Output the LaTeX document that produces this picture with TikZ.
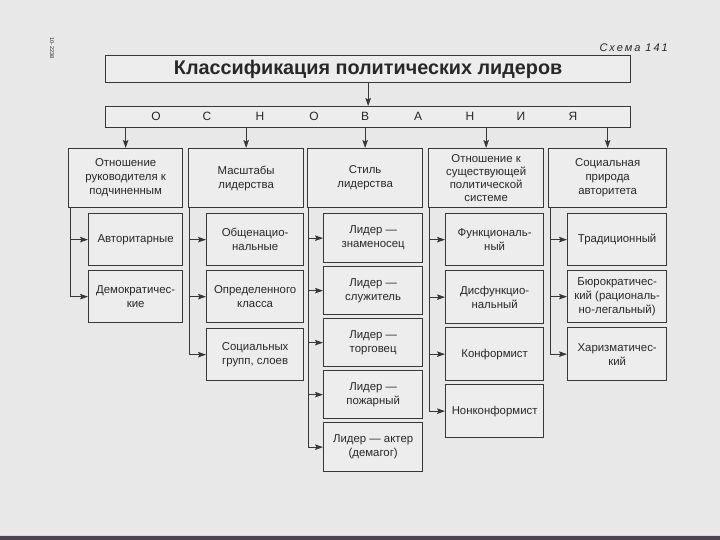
\documentclass[tikz,border=0pt]{standalone}
\usepackage{fontspec}
\setmainfont{Liberation Sans}
\usetikzlibrary{arrows.meta}
\definecolor{bgc}{RGB}{232,232,232}
\definecolor{boxc}{RGB}{238,237,238}
\definecolor{linec}{RGB}{55,55,55}
\definecolor{textc}{RGB}{40,40,40}
\definecolor{stripc}{RGB}{85,65,85}
\begin{document}
\begin{tikzpicture}[x=1pt,y=-1pt,
  box/.style={draw=linec, line width=1.3pt, fill=boxc, anchor=north west, inner sep=0pt, align=center, text=textc, font=\fontsize{11.4}{14}\selectfont},
  conn/.style={draw=linec, line width=0.9pt},
  arr/.style={conn, -{Stealth[length=8pt,width=5.5pt,inset=1.5pt]}},
  letter/.style={text=textc, font=\fontsize{12}{13}\selectfont, inner sep=0pt}
]
\useasboundingbox (0,0) rectangle (720,540);
\fill[bgc] (0,0) rectangle (720,540);
\fill[stripc] (0,536) rectangle (720,540);
\fill[pink!60!bgc] (0,534.5) rectangle (720,536);

% margin notes
\node[rotate=-90, text=textc, font=\fontsize{5.5}{6}\selectfont, inner sep=0pt] (pg) at (52,48) {10- 2238};
\node[anchor=south east, text=textc, inner sep=0pt, font=\fontsize{11}{12}\selectfont\itshape\addfontfeatures{LetterSpace=18}] (sch) at (668,52) {Схема 141};

% title and basis
\node[box, minimum width=525pt, minimum height=27pt, font=\fontsize{19.8}{22}\selectfont\bfseries] (title) at (105,55) {Классификация политических лидеров};
\node[box, minimum width=525pt, minimum height=21pt] (osn) at (105,106) {};
\foreach \l/\x in {О/156,С/207,Н/260,О/314,В/365,А/418,Н/470,И/521,Я/573}
  \node[letter] at (\x,116.5) {\l};

% categories
\node[box, minimum width=114pt, minimum height=59pt] (c1) at (68,148) {Отношение\\руководителя к\\подчиненным};
\node[box, minimum width=115pt, minimum height=59pt] (c2) at (188,148) {Масштабы\\лидерства};
\node[box, minimum width=115pt, minimum height=59pt] (c3) at (307,148) {Стиль\\лидерства};
\node[box, minimum width=115pt, minimum height=59pt, font=\fontsize{11.4}{13.2}\selectfont] (c4) at (428,148) {Отношение к\\существующей\\политической\\системе};
\node[box, minimum width=118pt, minimum height=59pt] (c5) at (548,148) {Социальная\\природа\\авторитета};

% column 1
\node[box, minimum width=94pt, minimum height=52pt] (s11) at (88,213) {Авторитарные};
\node[box, minimum width=94pt, minimum height=52pt] (s12) at (88,270) {Демократичес-\\кие};
% column 2
\node[box, minimum width=97pt, minimum height=52pt] (s21) at (206,213) {Общенацио-\\нальные};
\node[box, minimum width=97pt, minimum height=52pt] (s22) at (206,270) {Определенного\\класса};
\node[box, minimum width=97pt, minimum height=52pt] (s23) at (206,328) {Социальных\\групп, слоев};
% column 3
\node[box, minimum width=99pt, minimum height=49pt] (s31) at (323,213) {Лидер —\\знаменосец};
\node[box, minimum width=99pt, minimum height=48pt] (s32) at (323,266) {Лидер —\\служитель};
\node[box, minimum width=99pt, minimum height=48pt] (s33) at (323,318) {Лидер —\\торговец};
\node[box, minimum width=99pt, minimum height=48pt] (s34) at (323,370) {Лидер —\\пожарный};
\node[box, minimum width=99pt, minimum height=49pt] (s35) at (323,422) {Лидер — актер\\(демагог)};
% column 4
\node[box, minimum width=98pt, minimum height=52pt] (s41) at (445,213) {Функциональ-\\ный};
\node[box, minimum width=98pt, minimum height=53pt] (s42) at (445,270) {Дисфункцио-\\нальный};
\node[box, minimum width=98pt, minimum height=53pt] (s43) at (445,327) {Конформист};
\node[box, minimum width=98pt, minimum height=53pt] (s44) at (445,384) {Нонконформист};
% column 5
\node[box, minimum width=99pt, minimum height=52pt] (s51) at (567,213) {Традиционный};
\node[box, minimum width=99pt, minimum height=52pt] (s52) at (567,270) {Бюрократичес-\\кий (рациональ-\\но-легальный)};
\node[box, minimum width=99pt, minimum height=53pt] (s53) at (567,327) {Харизматичес-\\кий};

% connectors
\draw[arr] (title.south) -- (osn.north);
\foreach \c in {c1,c2,c3,c4,c5}
  \draw[arr] (osn.south -| \c.north) -- (\c.north);

\coordinate (t1) at ([xshift=2pt]c1.south west);
\coordinate (t2) at ([xshift=1pt]c2.south west);
\coordinate (t3) at ([xshift=1pt]c3.south west);
\coordinate (t4) at ([xshift=1pt]c4.south west);
\coordinate (t5) at ([xshift=2pt]c5.south west);
\foreach \t/\s in {t1/s11,t1/s12,t2/s21,t2/s22,t2/s23,t3/s31,t3/s32,t3/s33,t3/s34,t3/s35,t4/s41,t4/s42,t4/s43,t4/s44,t5/s51,t5/s52,t5/s53}
  \draw[arr] (\t) |- (\s.west);
\end{tikzpicture}
\end{document}
